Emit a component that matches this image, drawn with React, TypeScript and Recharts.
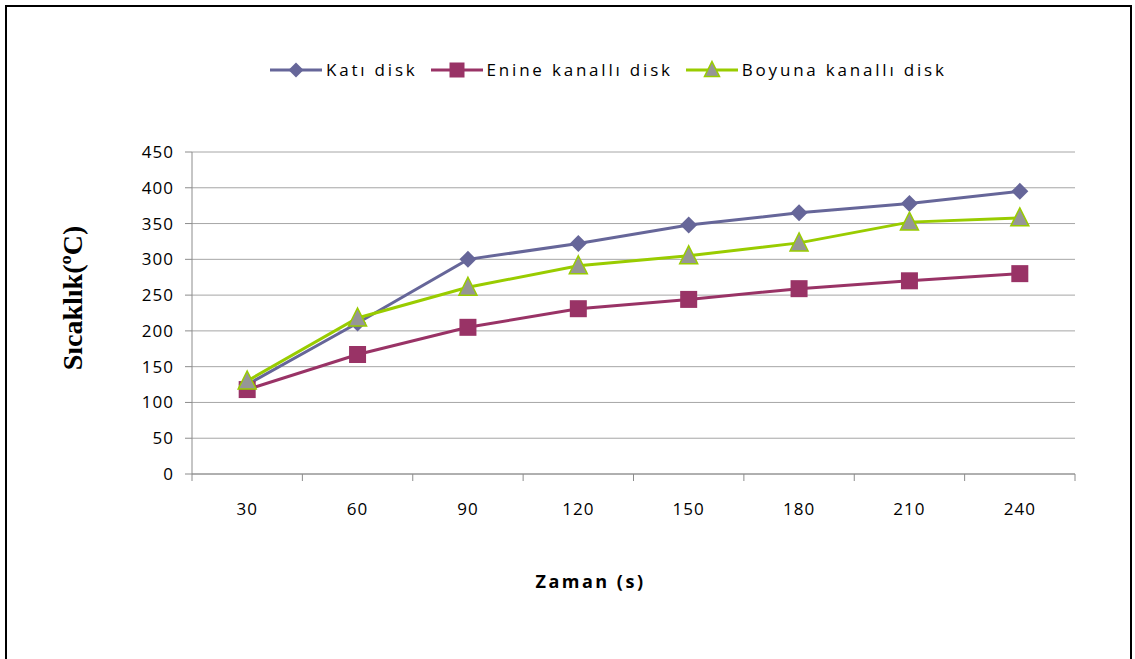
import React from "react";
import { LineChart, Line, XAxis, YAxis, CartesianGrid, Legend } from "recharts";

const categories = ["30", "60", "90", "120", "150", "180", "210", "240"];
const katiDisk = [125, 211, 300, 322, 348, 365, 378, 395];
const enineKanalli = [118, 167, 205, 231, 244, 259, 270, 280];
const boyunaKanalli = [130, 218, 261, 291, 305, 323, 352, 358];
const yTicks = [0, 50, 100, 150, 200, 250, 300, 350, 400, 450];

const data = categories.map((t, i) => ({
  t,
  kati: katiDisk[i],
  enine: enineKanalli[i],
  boyuna: boyunaKanalli[i],
}));

const KATI = "#666699";
const ENINE = "#993366";
const BOYUNA = "#99CC00";
const TRI_FILL = "#969696";
const AXIS = "#8C8C8C";
const FONT = "'Open Sans', 'Noto Sans', sans-serif";
const TICK_SIZE = 7;
const TICK_MARGIN = 22;

const Diamond = ({ cx, cy, size = 8.5 }: any) => (
  <polygon
    points={`${cx},${cy - size} ${cx + size},${cy} ${cx},${cy + size} ${cx - size},${cy}`}
    fill={KATI}
  />
);

const Square = ({ cx, cy, size = 8.5 }: any) => (
  <rect x={cx - size} y={cy - size} width={size * 2} height={size * 2} fill={ENINE} />
);

const Triangle = ({ cx, cy, size = 9 }: any) => (
  <polygon
    points={`${cx},${cy - size - 1} ${cx + size},${cy + size - 1} ${cx - size},${cy + size - 1}`}
    fill={TRI_FILL}
    stroke={BOYUNA}
    strokeWidth={1.5}
  />
);

const legendItems = [
  { name: "Katı disk", color: KATI, Marker: Diamond },
  { name: "Enine kanallı disk", color: ENINE, Marker: Square },
  { name: "Boyuna kanallı disk", color: BOYUNA, Marker: Triangle },
];

const LegendContent = () => (
  <div style={{ display: "flex", alignItems: "center", fontFamily: FONT }}>
    {legendItems.map(({ name, color, Marker }) => (
      <div key={name} style={{ display: "flex", alignItems: "center", marginRight: 13 }}>
        <svg width={52} height={22}>
          <line x1={0} y1={11} x2={52} y2={11} stroke={color} strokeWidth={3} />
          <Marker cx={26} cy={11} size={7.5} />
        </svg>
        <span style={{ fontSize: 17, letterSpacing: 2.8, marginLeft: 4, color: "#000" }}>{name}</span>
      </div>
    ))}
  </div>
);

// category label in the middle, tick marks on the band edges (Excel style)
const CategoryTick = ({ x, y, payload, index, visibleTicksCount }: any) => {
  const half = payload?.offset ?? 0;
  const axisY = y - TICK_SIZE - TICK_MARGIN;
  return (
    <g>
      <line x1={x - half} x2={x - half} y1={axisY} y2={axisY + TICK_SIZE} stroke={AXIS} />
      {index === visibleTicksCount - 1 && (
        <line x1={x + half} x2={x + half} y1={axisY} y2={axisY + TICK_SIZE} stroke={AXIS} />
      )}
      <text
        x={x}
        y={y}
        dy="0.71em"
        textAnchor="middle"
        fill="#000"
        fontSize={17}
        fontFamily={FONT}
        letterSpacing={1}
      >
        {payload.value}
      </text>
    </g>
  );
};

const XLabel = ({ viewBox }: any) => (
  <text
    x={viewBox.x + viewBox.width / 2 - 43}
    y={583}
    textAnchor="middle"
    dominantBaseline="middle"
    fontFamily={FONT}
    fontWeight="bold"
    fontSize={18}
    letterSpacing={2.5}
    fill="#000"
  >
    Zaman (s)
  </text>
);

const YLabel = ({ viewBox }: any) => {
  const cy = viewBox.y + viewBox.height / 2 - 15;
  return (
    <text
      x={76}
      y={cy}
      transform={`rotate(-90, 76, ${cy})`}
      textAnchor="middle"
      dominantBaseline="middle"
      fontFamily="'Liberation Serif', 'DejaVu Serif', serif"
      fontWeight="bold"
      fontSize={28}
      fill="#000"
    >
      Sıcaklık(ºC)
    </text>
  );
};

const App = () => {
  return (
    <div
      style={{
        position: "absolute",
        left: 0,
        top: 0,
        width: 1135,
        height: 659,
        overflow: "hidden",
        background: "#fff",
      }}
    >
      <div
        style={{
          position: "absolute",
          left: 5,
          top: 5,
          width: 1123,
          height: 700,
          border: "2px solid #000",
        }}
      />
      <LineChart
        width={1135}
        height={659}
        data={data}
        margin={{ top: 129, right: 60, left: 132, bottom: 155 }}
        style={{ position: "absolute", left: 0, top: 0 }}
      >
        <CartesianGrid vertical={false} stroke="#A6A6A6" strokeWidth={1} />
        <XAxis
          dataKey="t"
          scale="band"
          height={30}
          tickLine={false}
          axisLine={{ stroke: AXIS }}
          tickSize={TICK_SIZE}
          tickMargin={TICK_MARGIN}
          tick={<CategoryTick />}
          interval={0}
          label={<XLabel />}
        />
        <YAxis
          width={60}
          domain={[0, 450]}
          ticks={yTicks}
          interval={0}
          tickSize={7}
          tickMargin={11}
          axisLine={{ stroke: AXIS }}
          tickLine={{ stroke: AXIS }}
          tick={{ fill: "#000", fontSize: 17, fontFamily: FONT, letterSpacing: 1 }}
          label={<YLabel />}
        />
        <Legend
          verticalAlign="top"
          content={<LegendContent />}
          wrapperStyle={{ top: 58, left: 270, width: 820 }}
        />
        <Line
          dataKey="kati"
          name="Katı disk"
          stroke={KATI}
          strokeWidth={3}
          dot={<Diamond />}
          isAnimationActive={false}
        />
        <Line
          dataKey="enine"
          name="Enine kanallı disk"
          stroke={ENINE}
          strokeWidth={3}
          dot={<Square />}
          isAnimationActive={false}
        />
        <Line
          dataKey="boyuna"
          name="Boyuna kanallı disk"
          stroke={BOYUNA}
          strokeWidth={3}
          dot={<Triangle />}
          isAnimationActive={false}
        />
      </LineChart>
    </div>
  );
};

export default App;
